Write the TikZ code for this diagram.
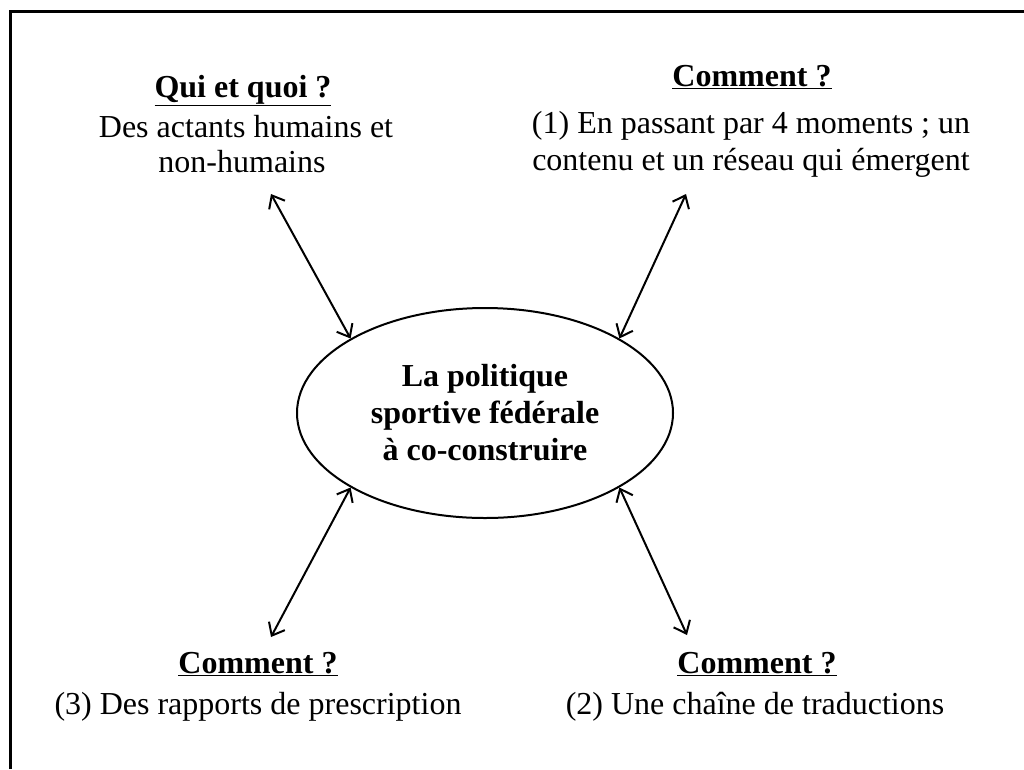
\documentclass[tikz,border=0pt]{standalone}
\usepackage{fontspec}
\setmainfont{Liberation Serif}
\usetikzlibrary{arrows.meta,shapes.geometric}

\begin{document}
\begin{tikzpicture}[x=1pt, y=-1pt, line width=2pt,
  link/.style={<->, >={Straight Barb[length=11pt,width=18pt]}},
  txt/.style={anchor=base, inner sep=0pt, font=\fontsize{32}{37}\selectfont},
  head/.style={txt, font=\fontsize{32}{37}\selectfont\bfseries}]
\useasboundingbox (0,0) rectangle (1024,769);
\draw[line width=3pt] (10,769) -- (10,11) -- (1024,11);
\node[ellipse, draw, minimum width=376pt, minimum height=210pt, inner sep=0pt, align=center,
  font=\fontsize{32}{37}\selectfont\bfseries] (pol) at (485,413) {La politique\\sportive fédérale\\à co-construire};
% les quatre questions
\node[head] (qq) at (243,97) {\underline{Qui et quoi ?}};
\node[txt] (qq1) at (246,137) {Des actants humains et};
\node[txt] (qq2) at (242,172) {non-humains};
\node[head] (c1) at (752,86) {\underline{Comment ?}};
\node[txt] (c1a) at (751,133) {(1) En passant par 4 moments ; un};
\node[txt] (c1b) at (751,170) {contenu et un réseau qui émergent};
\node[head] (c3) at (258,673) {\underline{Comment ?}};
\node[txt] (c3a) at (258,714) {(3) Des rapports de prescription};
\node[head] (c2) at (757,673) {\underline{Comment ?}};
\node[txt] (c2a) at (755,714) {(2) Une chaîne de traductions};
% fleches
\coordinate (qqend) at (271,194);
\coordinate (c1end) at (686,194);
\coordinate (c3end) at (271,637);
\coordinate (c2end) at (687,635);
\draw[link] (pol.151) -- (qqend);
\draw[link] (pol.29) -- (c1end);
\draw[link] (pol.209) -- (c3end);
\draw[link] (pol.331) -- (c2end);
\end{tikzpicture}
\end{document}
